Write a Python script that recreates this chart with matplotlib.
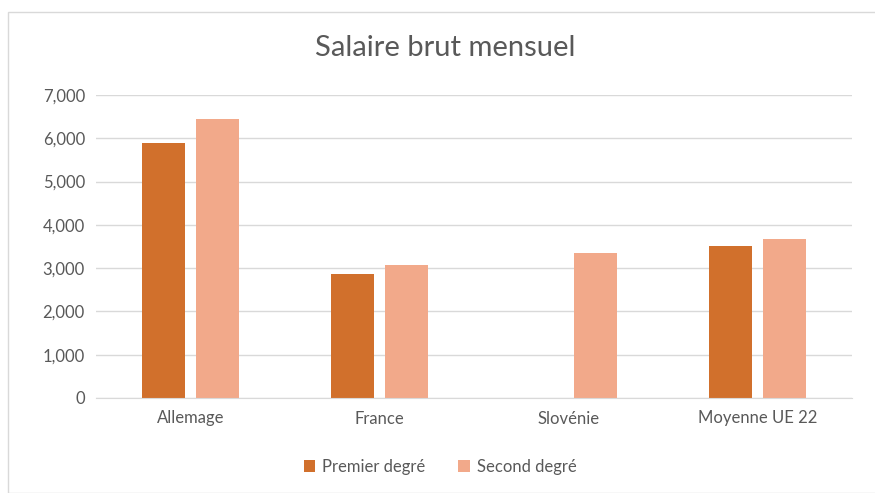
import matplotlib
matplotlib.use("Agg")
import matplotlib.pyplot as plt
import numpy as np
from matplotlib.patches import Rectangle
from matplotlib.ticker import FuncFormatter

categories = ["Allemage", "France", "Slovénie", "Moyenne UE 22"]
premier = [5890, 2860, np.nan, 3510]
second = [6440, 3070, 3350, 3670]
series_names = ["Premier degré", "Second degré"]

C_DARK = "#D1702C"
C_LIGHT = "#F2A98A"
GREY = "#595959"

plt.rcParams["font.family"] = ["Lato", "DejaVu Sans"]

fig = plt.figure(figsize=(8.75, 4.93), dpi=100)
fig.patches.append(Rectangle((8 / 875, 0), 1, 1 - 12 / 493, transform=fig.transFigure,
                             fill=False, edgecolor="#D9D9D9", lw=1.0))
ax = fig.add_axes([96 / 875, 1 - 398 / 493, (852 - 96) / 875, (398 - 95) / 493])

x = np.arange(len(categories))
w, gap = 0.23, 0.055
ax.bar(x - (w + gap) / 2, premier, w, color=C_DARK, label=series_names[0])
ax.bar(x + (w + gap) / 2, second, w, color=C_LIGHT, label=series_names[1])

ax.set_xlim(-0.5, len(categories) - 0.5)
ax.set_ylim(0, 7000)
ax.set_yticks(range(0, 7001, 1000))
ax.yaxis.set_major_formatter(FuncFormatter(lambda v, _: f"{int(v):,}"))
ax.set_xticks(x)
ax.set_xticklabels(categories)
ax.grid(axis="y", color="#D9D9D9", lw=1.0)
ax.set_axisbelow(True)
for s in ("top", "right", "left"):
    ax.spines[s].set_visible(False)
ax.spines["bottom"].set_color("#D9D9D9")
ax.tick_params(axis="both", length=0, colors=GREY, labelsize=12)
ax.tick_params(axis="y", pad=8)
ax.tick_params(axis="x", pad=9)

fig.text(445 / 875, 1 - 48 / 493, "Salaire brut mensuel", ha="center", va="center",
         fontsize=21, color=GREY)
fig.legend(loc="center", bbox_to_anchor=(440 / 875, 1 - 467 / 493), ncol=2, frameon=False,
           fontsize=12, labelcolor=GREY, handlelength=0.7, handleheight=0.7,
           handletextpad=0.4, columnspacing=2.0)

fig.savefig("out.png", dpi=100)
